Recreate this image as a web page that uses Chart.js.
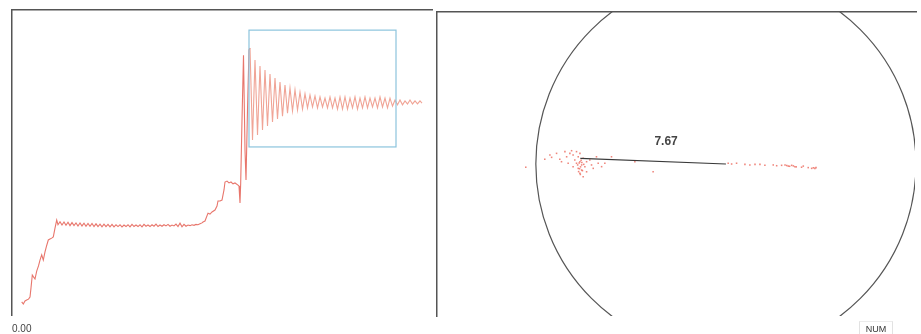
<!DOCTYPE html>
<html>
<head>
<meta charset="utf-8">
<script src="https://cdn.jsdelivr.net/npm/chart.js@4.4.1/dist/chart.umd.min.js"></script>
<style>
  html, body { margin: 0; padding: 0; background: #fff; }
  #wrap { position: relative; width: 921px; height: 334px; overflow: hidden; }
  #left { position: absolute; left: 0; top: 0; }
  #right { position: absolute; left: 433px; top: 0; }
  #num { position: absolute; left: 859px; top: 321px; width: 32px; height: 13px;
         font: 9px "Liberation Sans", sans-serif; color: #333; text-align: center; line-height: 15px;
         border-left: 1px solid #e2e2e2; border-right: 1px solid #e2e2e2; border-top: 1px solid #ececec; }
</style>
</head>
<body>
<div id="wrap">
  <canvas id="left" width="436" height="334"></canvas>
  <canvas id="right" width="488" height="334"></canvas>
  <div id="num">NUM</div>
</div>
<script>
// signal trace: [time (ms), amplitude (%)]
const signal = [
  [9.7,4.3],[11.3,3.6],[13,4.6],[14.7,4.9],[16.5,5.2],[18,5.9],[19,8.9],[20.3,13.1],[21.5,12.5],[23,11.8],
  [24.7,14.4],[26.5,16.1],[28,18.0],[29.7,19.7],[31.3,18.0],[33,20.7],[34.5,22.6],[36.3,24.6],[38,24.9],
  [39.7,25.2],[41.3,25.6],[43,28.5],[44.7,31.1],
  [46,29.6],[48,30.6],[50,29.5],[52,30.5],[54,29.4],[56,30.4],[58,29.3],[60,30.3],[62,29.3],[64,30.2],
  [66,29.2],[68,30.2],[70,29.2],[72,30.1],[74,29.1],[76,30.0],[78,29.1],[80,30.0],[82,29.0],[84,29.9],
  [86,29.0],[88,29.8],[90,28.9],[92,29.8],[94,29.0],[96,29.7],[98,28.9],[100,29.7],[102,28.9],[104,29.6],
  [106,29.0],[108,29.6],[110,28.9],[112,29.5],[114,29.0],[116,29.6],[118,28.9],[120,29.7],[122,29.0],[124,29.5],
  [126,29.0],[128,29.6],[130,28.9],[132,29.7],[134,29.1],[136,29.5],[138,29.0],[140,29.6],[142,29.1],[144,29.8],
  [146,29.0],[148,29.5],[150,29.1],[152,29.6],[154,29.2],[156,29.7],[158,29.1],[160,29.5],[162,29.2],[164,29.8],
  [166,29.0],[168,30.1],[170,28.9],[172,29.7],[174,29.1],[176,29.5],[178,29.3],[180,29.6],[182,29.4],[184,29.7],
  [186,29.6],[188,29.9],[190,30.2],
  [191,30.5],[193,30.8],[196,33.4],[198,33.1],[200,33.8],[203,34.4],[205,35.7],[206,37.4],[208,37.4],[210,37.7],
  [212,41.0],[213,43.6],[215,43.9],[217,43.3],[219,43.6],[221,43.0],[223,43.3],[226,42.6],[227,42.3],[228,36.7],
  [228.7,43.3],[230,63.9],[231.5,85.2],[233,54.1],[234,44.3],[235.5,67.2],[237,86.9],[238,87.5],
  [240.5,57.4],[243,83.6],[245.5,59.0],[248,81.6],[250.5,60.7],[253,80.3],[255.5,62.0],[258,79.0],[260.5,63.3],
  [263,77.7],[265.5,64.3],[268,76.4],[270.5,65.2],[273,75.4],[275.5,66.2],[278,74.4],[280.5,66.9],[283,73.8],
  [285.5,67.2],[288,73.1],[290.5,67.5],[293,72.5],[295.5,67.9],[298,72.1],[300.5,68.2],[303,71.8],[305.5,67.9],
  [308,71.5],[310.5,68.2],[313,71.1],[315.5,67.9],[318,71.5],[320.5,67.9],[323,71.1],[325.5,67.5],[328,71.5],
  [330.5,67.5],[333,71.5],[335.5,67.5],[338,71.1],[340.5,67.9],[343,71.5],[345.5,67.5],[348,71.1],[350.5,67.9],
  [353,71.5],[355.5,67.9],[358,71.1],[360.5,68.2],[363,71.1],[365.5,67.9],[368,71.5],[370.5,68.2],[373,71.1],
  [375.5,67.9],[378,71.1],[380.5,68.5],[383,70.5],[385.5,68.9],[388,70.5],[390.5,68.9],[393,70.2],[395.5,69.2],
  [398,70.5],[400.5,69.2],[403,70.2],[405.5,69.2],[408,70.2],[410,69.5]
];
const timeRange = [0, 420];
const ampRange = [0, 100];
// selection window on the trace: [t0, t1, a0, a1]
const zoomBox = [237, 384, 55.1, 93.4];

// polar view: sample hits [x, y]
const hits = [
  [-10.53,-0.17],[-9.53,0.25],[-9.26,0.47],[-9.17,0.35],[-8.91,0.56],[-8.74,0.25],[-8.65,0.12],[-8.47,0.65],
  [-8.38,0.38],[-8.30,0.04],[-8.21,0.56],[-8.12,0.70],[-8.04,0.47],[-8.04,-0.14],[-7.95,0.21],[-7.86,0.65],
  [-7.86,0.04],[-7.77,0.38],[-7.77,-0.23],[-7.68,0.56],[-7.68,0.12],[-7.68,-0.49],[-7.59,-0.05],[-7.59,-0.32],
  [-7.51,0.30],[-7.51,-0.67],[-7.42,-0.14],[-7.33,0.12],[-7.33,-0.41],[-7.16,0.21],[-7.07,-0.05],[-6.98,-0.23],
  [-6.81,0.38],[-6.72,0.04],[-6.54,-0.14],[-6.37,0.04],[-6.02,0.38],[-4.79,0.12],[-3.83,-0.41],
  [-7.72,0.05],[-7.65,-0.15],[-7.55,-0.35],[-7.80,-0.05],[-7.62,0.20],[-7.70,-0.25],[-7.48,-0.02],[-7.75,-0.40],
  [-7.58,0.08],[-7.66,-0.55],
  [0.12,0.04],[0.30,0.0],[0.56,0.04],[1.0,-0.02],[1.26,-0.05],[1.53,-0.02],[1.79,-0.02],[2.05,-0.07],[2.49,-0.05],
  [2.67,-0.09],[2.93,-0.07],[3.11,-0.05],[3.28,-0.11],[3.46,-0.07],[3.63,-0.14],[3.98,-0.17],[4.07,-0.11],
  [4.33,-0.19],[4.51,-0.23],[4.68,-0.23],[4.74,-0.19],[3.2,-0.08],[3.35,-0.12],[3.55,-0.10],[3.7,-0.15],[4.6,-0.2]
];
const vector = [[-7.66,0.3],[0,0]];
const vectorLabel = '7.67';
const circleRadius = 10;
const polarX = [-15.2, 10];
const polarY = [-8, 8];

const frameColor = '#555';

// selection rectangle drawn in data coordinates
const zoomBoxPlugin = {
  id: 'zoomBox',
  afterDatasetsDraw(chart) {
    const { ctx, scales: { x, y } } = chart;
    const x0 = x.getPixelForValue(zoomBox[0]);
    const x1 = x.getPixelForValue(zoomBox[1]);
    const y0 = y.getPixelForValue(zoomBox[3]);
    const y1 = y.getPixelForValue(zoomBox[2]);
    ctx.save();
    ctx.strokeStyle = '#8cc4dd';
    ctx.lineWidth = 1.2;
    ctx.strokeRect(x0, y0, x1 - x0, y1 - y0);
    ctx.restore();
  }
};

new Chart(document.getElementById('left'), {
  type: 'line',
  data: {
    datasets: [{
      data: signal.map(p => ({ x: p[0], y: p[1] })),
      borderWidth: 1.1,
      borderColor: '#e8766c',
      segment: {
        borderColor: c => c.p0.parsed.x >= 238 ? '#f0a496' : '#e8766c'
      },
      pointRadius: 0,
      tension: 0
    }]
  },
  options: {
    responsive: false,
    animation: false,
    events: [],
    layout: { padding: { left: 12, top: 10, right: 4, bottom: 0 } },
    plugins: { legend: { display: false }, tooltip: { enabled: false } },
    scales: {
      x: {
        type: 'linear', position: 'bottom', min: timeRange[0], max: timeRange[1],
        grid: { display: false, drawTicks: false },
        border: { display: false },
        afterBuildTicks: s => { s.ticks = [{ value: timeRange[0] }]; },
        afterFit: s => { s.height = 19; },
        ticks: {
          align: 'start', padding: 8, color: '#444',
          font: { family: 'Liberation Sans', size: 10 },
          callback: v => v.toFixed(2)
        }
      },
      xTop: {
        type: 'linear', position: 'top', min: timeRange[0], max: timeRange[1],
        grid: { display: false, drawTicks: false },
        ticks: { display: false },
        border: { display: true, color: frameColor, width: 1.5 }
      },
      y: {
        min: ampRange[0], max: ampRange[1],
        grid: { display: false, drawTicks: false },
        ticks: { display: false },
        border: { display: true, color: frameColor, width: 1.5 }
      }
    }
  },
  plugins: [zoomBoxPlugin]
});

// reference circle and the vector length label
const polarPlugin = {
  id: 'polar',
  beforeDatasetsDraw(chart) {
    const { ctx, chartArea: a, scales: { x, y } } = chart;
    const cx = x.getPixelForValue(0);
    const cy = y.getPixelForValue(0);
    const r = x.getPixelForValue(circleRadius) - cx;
    ctx.save();
    ctx.beginPath();
    ctx.rect(a.left, a.top, a.right - a.left - 1, a.bottom - a.top);
    ctx.clip();
    ctx.beginPath();
    ctx.arc(cx, cy, r, 0, Math.PI * 2);
    ctx.strokeStyle = '#555';
    ctx.lineWidth = 1.2;
    ctx.stroke();
    ctx.restore();
  },
  afterDatasetsDraw(chart) {
    const { ctx, scales: { x, y } } = chart;
    const mx = (x.getPixelForValue(vector[0][0]) + x.getPixelForValue(vector[1][0])) / 2;
    const my = (y.getPixelForValue(vector[0][1]) + y.getPixelForValue(vector[1][1])) / 2;
    ctx.save();
    ctx.font = 'bold 12px "Liberation Sans"';
    ctx.fillStyle = '#454545';
    ctx.textAlign = 'center';
    ctx.textBaseline = 'middle';
    ctx.fillText(vectorLabel, mx + 13, my - 19);
    ctx.restore();
  }
};

new Chart(document.getElementById('right'), {
  type: 'scatter',
  data: {
    datasets: [{
      data: vector.map(p => ({ x: p[0], y: p[1] })),
      showLine: true,
      borderColor: '#3a3a3a',
      borderWidth: 1.2,
      pointRadius: 0
    }, {
      data: hits.map(p => ({ x: p[0], y: p[1] })),
      pointStyle: 'rect',
      pointRadius: 1.1,
      borderWidth: 0,
      backgroundColor: 'rgba(236,112,100,0.85)'
    }]
  },
  options: {
    responsive: false,
    animation: false,
    events: [],
    layout: { padding: { left: 1, top: 12, right: 5, bottom: 18 } },
    plugins: { legend: { display: false }, tooltip: { enabled: false } },
    scales: {
      x: {
        type: 'linear', position: 'top', min: polarX[0], max: polarX[1],
        grid: { display: false, drawTicks: false },
        ticks: { display: false },
        border: { display: true, color: frameColor, width: 1.5 }
      },
      y: {
        min: polarY[0], max: polarY[1],
        grid: { display: false, drawTicks: false },
        ticks: { display: false },
        border: { display: true, color: frameColor, width: 1.5 }
      }
    }
  },
  plugins: [polarPlugin]
});
</script>
</body>
</html>
